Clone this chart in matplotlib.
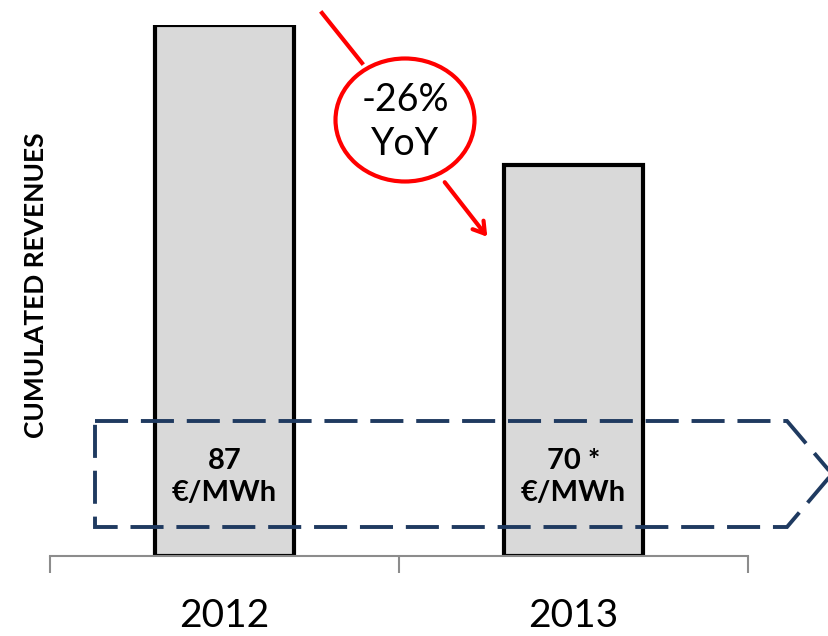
import matplotlib
matplotlib.use('Agg')
import matplotlib.pyplot as plt
from matplotlib.patches import Ellipse, Polygon, FancyArrowPatch
from matplotlib.lines import Line2D

plt.rcParams['font.family'] = ['Lato', 'DejaVu Sans']

years = ['2012', '2013']
revenue = [100, 73.6]          # indexed, 2012 = 100
price_labels = ['87\n€/MWh', '70 *\n€/MWh']
change_label = '-26%\nYoY'

W, H = 829, 636
fig = plt.figure(figsize=(W / 100, H / 100), dpi=100)

def fp(x, y):
    # pixel position from the top-left -> figure fraction
    return (x / W, 1 - y / H)

ax = fig.add_axes([50 / W, 80 / H, 698 / W, 531 / H])
pos = [0.5, 1.5]
ax.bar(pos, revenue, width=0.40, color='#D9D9D9', edgecolor='black',
       linewidth=3, zorder=2)
ax.set_xlim(0, 2)
ax.set_ylim(0, 100)

for s in ['top', 'right', 'left']:
    ax.spines[s].set_visible(False)
ax.spines['bottom'].set_color('#8C8C8C')
ax.spines['bottom'].set_linewidth(1.5)
ax.set_yticks([])
ax.set_xticks([0, 1, 2])
ax.set_xticklabels([])
ax.tick_params(axis='x', which='major', length=12, width=1.5, color='#8C8C8C')
ax.set_xticks(pos, minor=True)
ax.set_xticklabels(years, minor=True, fontsize=28)
ax.tick_params(axis='x', which='minor', length=0, pad=30)

for x, lab in zip(pos, price_labels):
    ax.text(x, 14.9, lab, ha='center', va='center', fontsize=21,
            fontweight='bold', linespacing=1.25, zorder=5)

fig.text(36 / W, 1 - 285 / H, 'CUMULATED REVENUES', rotation=90,
         ha='center', va='center', fontsize=19, fontweight='bold')

# dashed arrow-shaped box
box = Polygon([fp(95, 421), fp(787, 421), fp(832, 474), fp(787, 527), fp(95, 527)],
              closed=True, fill=False, edgecolor='#1F3A60', linewidth=2.8,
              linestyle=(0, (8.5, 3.3)), transform=fig.transFigure, zorder=4)
fig.add_artist(box)

# red -26% bubble
ell = Ellipse(fp(405, 120), 139 / W, 123 / H, fill=False, edgecolor='#FF0000',
              linewidth=3, transform=fig.transFigure)
fig.add_artist(ell)
fig.text(405 / W, 1 - 122 / H, change_label, ha='center', va='center',
         fontsize=27, linespacing=1.25)
fig.add_artist(Line2D([322 / W, 362 / W], [1 - 13 / H, 1 - 63 / H],
                      color='#FF0000', linewidth=3, transform=fig.transFigure))
arr = FancyArrowPatch(fp(443, 180), fp(489, 239), transform=fig.transFigure,
                      arrowstyle='->,head_length=8,head_width=5',
                      color='#FF0000', linewidth=3, mutation_scale=1)
fig.add_artist(arr)

fig.savefig('out.png', dpi=100)
